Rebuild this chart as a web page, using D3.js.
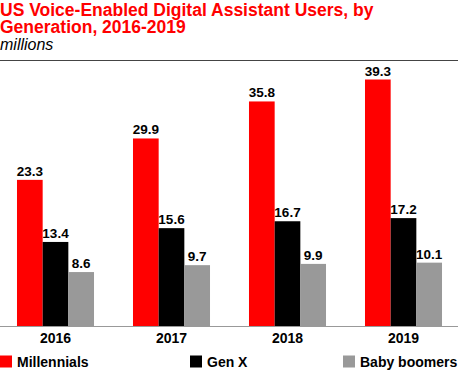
<!DOCTYPE html>
<html><head><meta charset="utf-8">
<script src="https://cdn.jsdelivr.net/npm/d3@7"></script>
<style>body{margin:0;background:#fff}svg{display:block}text{font-family:"Liberation Sans",Arial,sans-serif}</style>
</head><body>
<script>
const years = ["2016","2017","2018","2019"];
const seriesNames = ["Millennials","Gen X","Baby boomers"];
const millennials = [23.3, 29.9, 35.8, 39.3];
const genX = [13.4, 15.6, 16.7, 17.2];
const babyBoomers = [8.6, 9.7, 9.9, 10.1];
const colors = ["#ff0000","#000000","#999999"];

const W = 458, H = 380;
const svg = d3.select("body").append("svg").attr("width", W).attr("height", H);

svg.append("text").attr("x", 0).attr("y", 16).attr("fill", "#ff0000")
  .attr("font-size", 17.5).attr("font-weight", "bold").text("US Voice-Enabled Digital Assistant Users, by");
svg.append("text").attr("x", 0).attr("y", 33).attr("fill", "#ff0000")
  .attr("font-size", 17.5).attr("font-weight", "bold").text("Generation, 2016-2019");
svg.append("text").attr("x", 0).attr("y", 50).attr("fill", "#000")
  .attr("font-size", 16).attr("font-style", "italic").text("millions");
svg.append("line").attr("x1", 0).attr("x2", W).attr("y1", 60.5).attr("y2", 60.5)
  .attr("stroke", "#444").attr("stroke-width", 1);

const series = [millennials, genX, babyBoomers];
const baseY = 326;
const y = d3.scaleLinear().domain([0, 39.3]).range([baseY, 79.5]);
const x0 = d3.scaleBand().domain(years).range([-2.5, 461.5]).paddingInner(0.336).paddingOuter(0.168);
const x1 = d3.scaleBand().domain(seriesNames).range([0, x0.bandwidth()]);

const g = svg.append("g");
years.forEach((yr, i) => {
  seriesNames.forEach((s, j) => {
    const v = series[j][i];
    const bx = x0(yr) + x1(s);
    g.append("rect").attr("x", bx).attr("y", y(v)).attr("width", x1.bandwidth())
      .attr("height", baseY - y(v)).attr("fill", colors[j]);
    g.append("text").attr("x", bx + x1.bandwidth()/2).attr("y", y(v) - 4)
      .attr("text-anchor", "middle").attr("font-size", 13.5).attr("font-weight", "bold")
      .attr("fill", "#000").text(v.toFixed(1));
  });
});

svg.append("line").attr("x1", 0).attr("x2", W).attr("y1", baseY + 0.5).attr("y2", baseY + 0.5)
  .attr("stroke", "#999").attr("stroke-width", 1);

const xAxis = d3.axisBottom(x0).tickSize(0).tickPadding(0);
const ax = svg.append("g").attr("transform", `translate(0,${baseY})`).call(xAxis);
ax.select(".domain").remove();
ax.selectAll("text").attr("dy", null).attr("y", 17).attr("font-size", 14).attr("font-weight", "bold")
  .attr("fill", "#000").style("font-family", '"Liberation Sans",Arial,sans-serif');

const legendX = [0, 190, 343];
seriesNames.forEach((s, j) => {
  svg.append("rect").attr("x", legendX[j]).attr("y", 355.5).attr("width", 12).attr("height", 12).attr("fill", colors[j]);
  svg.append("text").attr("x", legendX[j] + 17).attr("y", 366.5).attr("font-size", 14)
    .attr("font-weight", "bold").attr("fill", "#000").text(s);
});
</script>
</body></html>
